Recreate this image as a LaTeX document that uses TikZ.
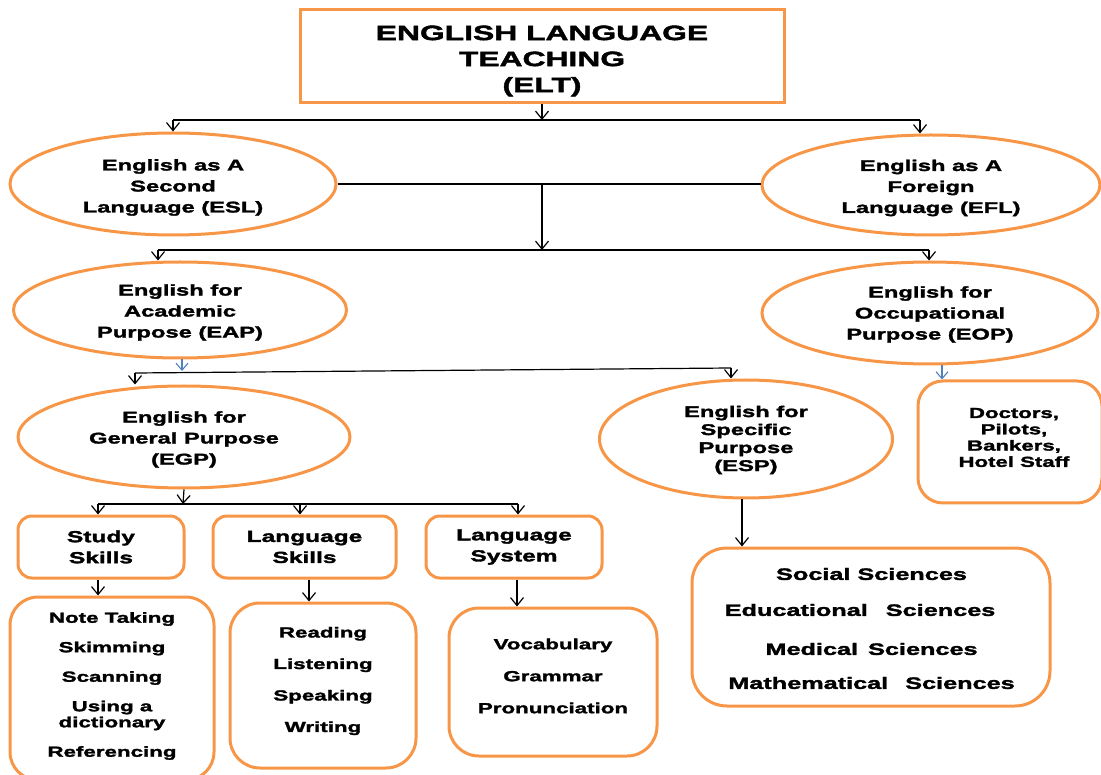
\documentclass[tikz,border=0pt]{standalone}
\usepackage{fontspec}
\setmainfont{Liberation Sans}[FakeStretch=1.53,FakeBold=2]
\usetikzlibrary{arrows.meta,shapes.geometric,calc}
\definecolor{orng}{RGB}{247,150,70}
\definecolor{blu}{RGB}{79,129,189}
\begin{document}
\begin{tikzpicture}[x=1pt,y=-1pt,
  box/.style={draw=orng,line width=3pt,rectangle,inner sep=0pt,align=center,font=\bfseries},
  rbox/.style={box,rounded corners=#1},
  ell/.style={draw=orng,line width=3pt,ellipse,inner sep=0pt},
  txt/.style={inner sep=0pt,align=center,font=\bfseries\fontsize{15.5}{21}\selectfont},
  con/.style={line width=1.2pt,black},
  arr/.style={con,-{Straight Barb[length=8pt,width=13pt]}},
  barr/.style={line width=1.1pt,blu,-{Straight Barb[length=7pt,width=12pt]}},
]
\useasboundingbox (0,0) rectangle (1101,775);

% shapes
\node[box,minimum width=484,minimum height=93] (elt) at (542,56.5) {};
\node[txt,font=\bfseries\fontsize{20.8}{26}\selectfont] (eltT) at (542,61) {ENGLISH LANGUAGE\\TEACHING\\(ELT)};

\node[ell,minimum width=326,minimum height=102] (esl) at (173,184) {};
\node[txt] (eslT) at (173,187.5) {English as A\\Second\\Language (ESL)};
\node[ell,minimum width=338,minimum height=100] (efl) at (931,185) {};
\node[txt] (eflT) at (931,188) {English as A\\Foreign\\Language (EFL)};
\node[ell,minimum width=333,minimum height=96] (eap) at (180,310) {};
\node[txt] (eapT) at (180,312.5) {English for\\Academic\\Purpose (EAP)};
\node[ell,minimum width=336,minimum height=102] (eop) at (930,313) {};
\node[txt] (eopT) at (930,314.5) {English for\\Occupational\\Purpose (EOP)};
\node[ell,minimum width=332,minimum height=102] (egp) at (184,437) {};
\node[txt] (egpT) at (184,439.5) {English for\\General Purpose\\(EGP)};
\node[ell,minimum width=293,minimum height=118] (esp) at (746,439) {};
\node[txt,font=\bfseries\fontsize{15.5}{18}\selectfont] (espT) at (746,440) {English for\\Specific\\Purpose\\(ESP)};

\node[rbox=25pt,minimum width=184,minimum height=122] (doc) at (1010,442) {};
\node[txt,font=\bfseries\fontsize{14.5}{16.3}\selectfont] (docT) at (1014,437.5) {Doctors,\\Pilots,\\Bankers,\\Hotel Staff};

\node[rbox=14pt,minimum width=166,minimum height=62,font=\bfseries\fontsize{16}{21}\selectfont] (study) at (101,547) {Study\\Skills};
\node[rbox=14pt,minimum width=183,minimum height=62,font=\bfseries\fontsize{16}{21}\selectfont] (lskills) at (304.5,547) {Language\\Skills};
\node[rbox=14pt,minimum width=176,minimum height=62,font=\bfseries\fontsize{16}{21}\selectfont] (lsys) at (514,547) {Language\\System};

\node[rbox=28pt,minimum width=204,minimum height=183] (notes) at (112,688.5) {};
\node[txt,font=\bfseries\fontsize{14.6}{29.5}\selectfont] (notesT) at (112,686) {Note Taking\\Skimming\\Scanning\\Using a\\[-13.5pt]dictionary\\Referencing};

\node[rbox=30pt,minimum width=186,minimum height=165] (reading) at (323,685.5) {};
\node[txt,font=\bfseries\fontsize{14.6}{31.5}\selectfont] (readingT) at (323,681) {Reading\\Listening\\Speaking\\Writing};

\node[rbox=30pt,minimum width=208,minimum height=148] (vocab) at (553,682) {};
\node[txt,font=\bfseries\fontsize{14.6}{32}\selectfont] (vocabT) at (553,676) {Vocabulary\\Grammar\\Pronunciation};

\node[rbox=35pt,minimum width=358,minimum height=158] (sci) at (871,627) {};
\node[txt,font=\bfseries\fontsize{16.5}{36}\selectfont] (sciT) at (871.5,628.5) {Social Sciences\\\hspace*{-23pt}Educational\hspace{18pt}Sciences\\[3pt]Medical\hspace{10pt}Sciences\\[-2pt]Mathematical\hspace{17pt}Sciences};

% connectors
\coordinate (j1) at (542,120);
\coordinate (j1l) at (173,120);
\coordinate (j1r) at (920,120);
\draw[arr] (elt.south) -- (j1);
\draw[con] (j1l) -- (j1r);
\draw[arr] (j1l) -- (esl.north);
\draw[arr] (j1r) -- (j1r |- efl.north);

\draw[con] (esl.east) -- (esl.east -| efl.west);
\coordinate (j2) at (542,250);
\coordinate (j2l) at (158,250);
\coordinate (j2r) at (929,250);
\draw[arr] (elt.south |- esl.east) -- (j2);
\draw[con] (j2l) -- (j2r);
\draw[arr] (j2l) -- (j2l |- eap.north);
\draw[arr] (j2r) -- (j2r |- eop.north);

\coordinate (j3m) at (182,371);
\draw[barr] (j3m |- eap.south) -- (j3m);
\coordinate (j3a) at (135,373);
\coordinate (j3b) at (731,368);
\draw[con] (j3a) -- (j3b);
\draw[arr] (j3a) -- (j3a |- egp.north);
\draw[arr] (j3b) -- (j3b |- esp.north);

\coordinate (j4) at (942,0);
\draw[barr] (j4 |- eop.south) -- (j4 |- doc.north);

\coordinate (j5) at (183,504);
\coordinate (j5l) at (98,504);
\coordinate (j5m) at (300,504);
\coordinate (j5r) at (518,504);
\draw[arr] (egp.south) -- (j5);
\draw[con] (j5l) -- (j5r);
\draw[arr] (j5l) -- (j5l |- study.north);
\draw[arr] (j5m) -- (j5m |- lskills.north);
\draw[arr] (j5r) -- (j5r |- lsys.north);

\coordinate (k1) at (98,0);
\coordinate (k2) at (309,0);
\coordinate (k3) at (517,0);
\coordinate (k4) at (742,0);
\draw[arr] (k1 |- study.south) -- (k1 |- notes.north);
\draw[arr] (k2 |- lskills.south) -- (k2 |- reading.north);
\draw[arr] (k3 |- lsys.south) -- (k3 |- vocab.north);
\draw[arr] (k4 |- esp.south) -- (k4 |- sci.north);
\end{tikzpicture}
\end{document}
